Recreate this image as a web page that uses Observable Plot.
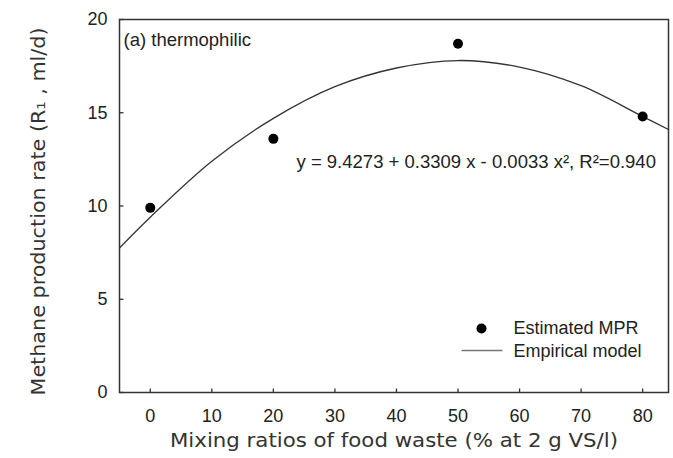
<!DOCTYPE html>
<html><head><meta charset="utf-8">
<script src="https://cdn.jsdelivr.net/npm/d3@7"></script>
<script src="https://cdn.jsdelivr.net/npm/@observablehq/plot@0.6"></script>
<style>body{margin:0;background:#fff;}</style>
</head><body><div id="chart"></div>
<script>
// Estimated methane production rate (points)
const ratios = [0, 20, 50, 80];
const mpr = [9.9, 13.6, 18.7, 14.8];
// Empirical model curve
const modelX = [-5, 0, 10, 20, 30, 40, 50, 60, 70, 80, 84.2];
const modelY = [7.75, 9.4, 12.4, 14.7, 16.4, 17.4, 17.8, 17.45, 16.45, 14.8, 14.1];
const xTicks = [0, 10, 20, 30, 40, 50, 60, 70, 80];
const yTicks = [0, 5, 10, 15, 20];
const panelLabel = "(a) thermophilic";
const equation = "y = 9.4273 + 0.3309 x - 0.0033 x\u00B2, R\u00B2=0.940";
const legendLabels = ["Estimated MPR", "Empirical model"];
const xTitle = "Mixing ratios of food waste (% at 2 g VS/l)";
const yTitle = "Methane production rate (R\u2081 , ml/d)";

const points = ratios.map((x, i) => ({x, y: mpr[i]}));
const model = modelX.map((x, i) => ({x, y: modelY[i]}));

const titleFont = "'DejaVu Sans', sans-serif";
const legendLine = {draw(ctx) { ctx.moveTo(-20.5, 0); ctx.lineTo(20.5, 0); }};
const tickUp = {draw(ctx) { ctx.moveTo(0, 0); ctx.lineTo(0, -4); }};
const tickRight = {draw(ctx) { ctx.moveTo(0, 0); ctx.lineTo(4, 0); }};

const chart = Plot.plot({
  width: 673, height: 458,
  marginLeft: 119, marginRight: 5, marginTop: 19, marginBottom: 66,
  x: {domain: [-5, 84.2]},
  y: {domain: [0, 20]},
  style: {fontFamily: "'Liberation Sans', Arial, sans-serif", fontSize: "18px", color: "#222", background: "#fff"},
  marks: [
    Plot.axisX(xTicks, {tickSize: 0, tickPadding: 17, label: null, fontSize: 18}),
    Plot.axisY(yTicks, {tickSize: 0, tickPadding: 12, label: null, fontSize: 18}),
    Plot.dot(xTicks, {x: d => d, frameAnchor: "bottom", symbol: tickUp, fill: "none", stroke: "#333", strokeWidth: 1.3}),
    Plot.dot(yTicks, {y: d => d, frameAnchor: "left", symbol: tickRight, fill: "none", stroke: "#333", strokeWidth: 1.3}),
    Plot.frame({stroke: "#333", strokeWidth: 1.5}),
    Plot.line(model, {x: "x", y: "y", curve: "catmull-rom", stroke: "#333", strokeWidth: 1.3}),
    Plot.dot(points, {x: "x", y: "y", r: 5, fill: "#000"}),
    Plot.text([panelLabel], {frameAnchor: "top-left", dx: 4, dy: 21, textAnchor: "start", lineAnchor: "middle", fontSize: 18.5, fill: "#222"}),
    Plot.text([equation], {frameAnchor: "top-left", dx: 177, dy: 143, textAnchor: "start", lineAnchor: "middle", fontSize: 18.5, fill: "#222"}),
    Plot.dot([0], {frameAnchor: "bottom-right", dx: -187, dy: -64, r: 5, fill: "#000"}),
    Plot.dot([0], {frameAnchor: "bottom-right", dx: -186.5, dy: -42, symbol: legendLine, r: 5, fill: "none", stroke: "#777", strokeWidth: 1.5}),
    Plot.text([legendLabels[0]], {frameAnchor: "bottom-right", dx: -155, dy: -64, textAnchor: "start", lineAnchor: "middle", fontSize: 18, fill: "#222"}),
    Plot.text([legendLabels[1]], {frameAnchor: "bottom-right", dx: -155, dy: -41, textAnchor: "start", lineAnchor: "middle", fontSize: 18, fill: "#222"}),
    Plot.text([xTitle], {frameAnchor: "bottom", dy: 48, textAnchor: "middle", lineAnchor: "middle", fontSize: 20, fontFamily: titleFont, fill: "#333"}),
    Plot.text([yTitle], {frameAnchor: "left", dx: -81, dy: 5.5, rotate: -90, textAnchor: "middle", lineAnchor: "middle", fontSize: 20, fontFamily: titleFont, fill: "#333"})
  ]
});
const svg = d3.select(chart);
svg.selectAll("text").filter(function() { return this.textContent === xTitle; })
  .attr("textLength", 448).attr("lengthAdjust", "spacingAndGlyphs");
svg.selectAll("text").filter(function() { return this.textContent === yTitle; })
  .attr("textLength", 368).attr("lengthAdjust", "spacingAndGlyphs");
document.getElementById("chart").append(chart);
</script>
</body></html>
